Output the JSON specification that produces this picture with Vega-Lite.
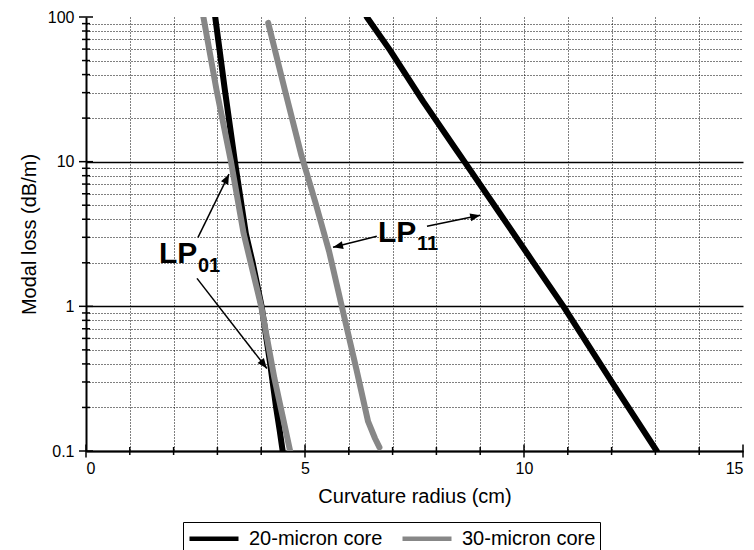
{
  "$schema": "https://vega.github.io/schema/vega-lite/v6.json",
  "width": 657,
  "height": 434,
  "autosize": {"type": "none"},
  "padding": {"left": 86, "top": 17, "right": 11, "bottom": 99},
  "background": "white",
  "resolve": {"axis": {"x": "independent", "y": "independent"}},
  "config": {
    "view": {"stroke": null},
    "font": "Liberation Sans",
    "axis": {
      "domainColor": "black",
      "domainWidth": 2,
      "ticks": false,
      "gridColor": "black",
      "gridWidth": 1,
      "labelFont": "Liberation Sans",
      "labelFontSize": 16,
      "labelColor": "black",
      "titleFont": "Liberation Sans",
      "titleFontSize": 20,
      "titleFontWeight": "normal",
      "titleColor": "black"
    },
    "legend": {
      "orient": "none",
      "legendX": 97,
      "legendY": 505,
      "direction": "horizontal",
      "strokeColor": "black",
      "fillColor": "white",
      "padding": 4,
      "symbolType": "M-1,0L3.9,0",
      "symbolSize": 400,
      "symbolStrokeWidth": 4.5,
      "labelFont": "Liberation Sans",
      "labelFontSize": 20,
      "labelColor": "black",
      "labelOffset": 37,
      "columnPadding": 10
    }
  },
  "datasets": {
    "curves": [
      {"core": "20-micron core", "mode": "LP01", "r": 2.95, "loss": 100},
      {"core": "20-micron core", "mode": "LP01", "r": 3.17, "loss": 31.3},
      {"core": "20-micron core", "mode": "LP01", "r": 3.40, "loss": 10},
      {"core": "20-micron core", "mode": "LP01", "r": 3.65, "loss": 3.18},
      {"core": "20-micron core", "mode": "LP01", "r": 3.81, "loss": 1.97},
      {"core": "20-micron core", "mode": "LP01", "r": 4.01, "loss": 1.0},
      {"core": "20-micron core", "mode": "LP01", "r": 4.20, "loss": 0.41},
      {"core": "20-micron core", "mode": "LP01", "r": 4.34, "loss": 0.2},
      {"core": "20-micron core", "mode": "LP01", "r": 4.42, "loss": 0.14},
      {"core": "20-micron core", "mode": "LP01", "r": 4.49, "loss": 0.1},
      {"core": "20-micron core", "mode": "LP11", "r": 6.41, "loss": 100},
      {"core": "20-micron core", "mode": "LP11", "r": 6.94, "loss": 59},
      {"core": "20-micron core", "mode": "LP11", "r": 7.70, "loss": 26},
      {"core": "20-micron core", "mode": "LP11", "r": 8.46, "loss": 12},
      {"core": "20-micron core", "mode": "LP11", "r": 8.64, "loss": 10},
      {"core": "20-micron core", "mode": "LP11", "r": 9.45, "loss": 4.38},
      {"core": "20-micron core", "mode": "LP11", "r": 10.18, "loss": 2.08},
      {"core": "20-micron core", "mode": "LP11", "r": 10.9, "loss": 1.0},
      {"core": "20-micron core", "mode": "LP11", "r": 12.03, "loss": 0.292},
      {"core": "20-micron core", "mode": "LP11", "r": 13.03, "loss": 0.1},
      {"core": "30-micron core", "mode": "LP01", "r": 2.68, "loss": 100},
      {"core": "30-micron core", "mode": "LP01", "r": 2.98, "loss": 31.3},
      {"core": "30-micron core", "mode": "LP01", "r": 3.31, "loss": 10},
      {"core": "30-micron core", "mode": "LP01", "r": 3.60, "loss": 3.18},
      {"core": "30-micron core", "mode": "LP01", "r": 4.00, "loss": 1.0},
      {"core": "30-micron core", "mode": "LP01", "r": 4.30, "loss": 0.32},
      {"core": "30-micron core", "mode": "LP01", "r": 4.66, "loss": 0.1},
      {"core": "30-micron core", "mode": "LP11", "r": 4.16, "loss": 91},
      {"core": "30-micron core", "mode": "LP11", "r": 4.54, "loss": 31.3},
      {"core": "30-micron core", "mode": "LP11", "r": 4.92, "loss": 11},
      {"core": "30-micron core", "mode": "LP11", "r": 5.24, "loss": 5.2},
      {"core": "30-micron core", "mode": "LP11", "r": 5.55, "loss": 2.4},
      {"core": "30-micron core", "mode": "LP11", "r": 5.84, "loss": 1.0},
      {"core": "30-micron core", "mode": "LP11", "r": 6.18, "loss": 0.36},
      {"core": "30-micron core", "mode": "LP11", "r": 6.44, "loss": 0.16},
      {"core": "30-micron core", "mode": "LP11", "r": 6.60, "loss": 0.122},
      {"core": "30-micron core", "mode": "LP11", "r": 6.70, "loss": 0.106}
    ],
    "arrows": [
      {"id": "A", "xa": 2.557, "ya": 3.00, "xb": 3.265, "yb": 8.20},
      {"id": "B", "xa": 2.534, "ya": 1.56, "xb": 4.13, "yb": 0.372},
      {"id": "C", "xa": 6.64, "ya": 3.05, "xb": 5.64, "yb": 2.56},
      {"id": "D", "xa": 7.785, "ya": 3.58, "xb": 9.0, "yb": 4.26}
    ],
    "labels": [
      {"t": "LP", "kind": "main", "x": 1.667, "y": 1.985},
      {"t": "01", "kind": "sub", "x": 2.557, "y": 1.719},
      {"t": "LP", "kind": "main", "x": 6.667, "y": 2.773},
      {"t": "11", "kind": "sub", "x": 7.557, "y": 2.44}
    ],
    "xticks": [
      {"v": 0, "k": "major"}, {"v": 1, "k": "minor"}, {"v": 2, "k": "minor"}, {"v": 3, "k": "minor"},
      {"v": 4, "k": "minor"}, {"v": 5, "k": "major"}, {"v": 6, "k": "minor"}, {"v": 7, "k": "minor"},
      {"v": 8, "k": "minor"}, {"v": 9, "k": "minor"}, {"v": 10, "k": "major"}, {"v": 11, "k": "minor"},
      {"v": 12, "k": "minor"}, {"v": 13, "k": "minor"}, {"v": 14, "k": "minor"}, {"v": 15, "k": "major"}
    ],
    "yticks": [
      {"v": 0.1, "k": "major"}, {"v": 0.2, "k": "minor"}, {"v": 0.3, "k": "minor"}, {"v": 0.4, "k": "minor"},
      {"v": 0.5, "k": "minor"}, {"v": 0.6, "k": "minor"}, {"v": 0.7, "k": "minor"}, {"v": 0.8, "k": "minor"},
      {"v": 0.9, "k": "minor"}, {"v": 1, "k": "major"}, {"v": 2, "k": "minor"}, {"v": 3, "k": "minor"},
      {"v": 4, "k": "minor"}, {"v": 5, "k": "minor"}, {"v": 6, "k": "minor"}, {"v": 7, "k": "minor"},
      {"v": 8, "k": "minor"}, {"v": 9, "k": "minor"}, {"v": 10, "k": "major"}, {"v": 20, "k": "minor"},
      {"v": 30, "k": "minor"}, {"v": 40, "k": "minor"}, {"v": 50, "k": "minor"}, {"v": 60, "k": "minor"},
      {"v": 70, "k": "minor"}, {"v": 80, "k": "minor"}, {"v": 90, "k": "minor"}, {"v": 100, "k": "major"}
    ]
  },
  "layer": [
    {
      "data": {"name": "arrows"},
      "mark": {"type": "rule", "color": "black", "strokeWidth": 1.5},
      "encoding": {
        "x": {
          "field": "xa", "type": "quantitative",
          "scale": {"domain": [0, 15], "nice": false, "zero": false},
          "axis": {
            "orient": "bottom", "title": null, "values": [1,2,3,4,6,7,8,9,11,12,13,14],
            "labels": false, "domain": false,
            "grid": true, "gridDash": [1, 2]
          }
        },
        "y": {
          "field": "ya", "type": "quantitative",
          "scale": {"type": "log", "domain": [0.1, 100], "nice": false},
          "axis": {
            "orient": "left", "title": null,
            "values": [0.2,0.3,0.4,0.5,0.6,0.7,0.8,0.9,2,3,4,5,6,7,8,9,20,30,40,50,60,70,80,90],
            "labels": false, "domain": false,
            "grid": true, "gridDash": [1, 2]
          }
        },
        "x2": {"field": "xb"},
        "y2": {"field": "yb"}
      }
    },
    {
      "data": {"name": "curves"},
      "mark": {"type": "line", "strokeWidth": 6, "clip": true, "strokeCap": "round", "strokeJoin": "round"},
      "encoding": {
        "x": {
          "field": "r", "type": "quantitative",
          "scale": {"domain": [0, 15], "nice": false, "zero": false},
          "axis": {
            "orient": "bottom",
            "title": "Curvature radius (cm)",
            "values": [0, 5, 10, 15],
            "labelPadding": 9,
            "titlePadding": 10,
            "grid": true,
            "gridDash": [1, 2],
            "gridOpacity": {"condition": {"test": "datum.value === 0 || datum.value === 15", "value": 0}, "value": 1}
          }
        },
        "y": {
          "field": "loss", "type": "quantitative",
          "scale": {"type": "log", "domain": [0.1, 100], "nice": false},
          "axis": {
            "orient": "left",
            "title": "Modal loss (dB/m)",
            "values": [0.1, 1, 10, 100],
            "format": "~g",
            "labelPadding": 12,
            "titlePadding": 8,
            "grid": true,
            "gridWidth": 1.3,
            "gridOpacity": {"condition": {"test": "datum.value >= 99", "value": 0}, "value": 1}
          }
        },
        "color": {
          "field": "core", "type": "nominal",
          "scale": {"domain": ["20-micron core", "30-micron core"], "range": ["#000000", "#878787"]},
          "legend": {"title": null}
        },
        "detail": {"field": "mode"}
      }
    },
    {
      "data": {"name": "xticks"},
      "transform": [{"filter": "datum.k === 'major'"}],
      "mark": {"type": "tick", "orient": "vertical", "color": "black", "size": 13, "thickness": 1.5, "opacity": 1},
      "encoding": {
        "x": {"field": "v", "type": "quantitative", "axis": null},
        "y": {"datum": 0.1, "type": "quantitative", "axis": null}
      }
    },
    {
      "data": {"name": "xticks"},
      "transform": [{"filter": "datum.k === 'minor'"}],
      "mark": {"type": "tick", "orient": "vertical", "color": "black", "size": 8, "thickness": 1.5, "opacity": 1},
      "encoding": {
        "x": {"field": "v", "type": "quantitative", "axis": null},
        "y": {"datum": 0.1, "type": "quantitative", "axis": null}
      }
    },
    {
      "data": {"name": "yticks"},
      "transform": [{"filter": "datum.k === 'major'"}],
      "mark": {"type": "tick", "orient": "horizontal", "color": "black", "size": 14, "thickness": 1.5, "opacity": 1},
      "encoding": {
        "y": {"field": "v", "type": "quantitative", "axis": null},
        "x": {"datum": 0, "type": "quantitative", "axis": null}
      }
    },
    {
      "data": {"name": "yticks"},
      "transform": [{"filter": "datum.k === 'minor'"}],
      "mark": {"type": "tick", "orient": "horizontal", "color": "black", "size": 8, "thickness": 1.5, "opacity": 1},
      "encoding": {
        "y": {"field": "v", "type": "quantitative", "axis": null},
        "x": {"datum": 0, "type": "quantitative", "axis": null}
      }
    },
    {
      "data": {"name": "arrows"},
      "transform": [{"filter": "datum.id === 'A'"}],
      "mark": {"type": "point", "shape": "M0,0L-0.4,1L0.4,1Z", "filled": true, "color": "black", "opacity": 1, "size": 400, "angle": 26},
      "encoding": {
        "x": {"field": "xb", "type": "quantitative", "axis": null},
        "y": {"field": "yb", "type": "quantitative", "axis": null}
      }
    },
    {
      "data": {"name": "arrows"},
      "transform": [{"filter": "datum.id === 'B'"}],
      "mark": {"type": "point", "shape": "M0,0L-0.4,1L0.4,1Z", "filled": true, "color": "black", "opacity": 1, "size": 400, "angle": 142},
      "encoding": {
        "x": {"field": "xb", "type": "quantitative", "axis": null},
        "y": {"field": "yb", "type": "quantitative", "axis": null}
      }
    },
    {
      "data": {"name": "arrows"},
      "transform": [{"filter": "datum.id === 'C'"}],
      "mark": {"type": "point", "shape": "M0,0L-0.4,1L0.4,1Z", "filled": true, "color": "black", "opacity": 1, "size": 400, "angle": 257},
      "encoding": {
        "x": {"field": "xb", "type": "quantitative", "axis": null},
        "y": {"field": "yb", "type": "quantitative", "axis": null}
      }
    },
    {
      "data": {"name": "arrows"},
      "transform": [{"filter": "datum.id === 'D'"}],
      "mark": {"type": "point", "shape": "M0,0L-0.4,1L0.4,1Z", "filled": true, "color": "black", "opacity": 1, "size": 400, "angle": 78},
      "encoding": {
        "x": {"field": "xb", "type": "quantitative", "axis": null},
        "y": {"field": "yb", "type": "quantitative", "axis": null}
      }
    },
    {
      "data": {"name": "labels"},
      "transform": [{"filter": "datum.kind === 'main'"}],
      "mark": {"type": "text", "font": "Liberation Sans", "fontWeight": "bold", "fontSize": 30, "align": "left", "baseline": "alphabetic", "color": "black"},
      "encoding": {
        "x": {"field": "x", "type": "quantitative", "axis": null},
        "y": {"field": "y", "type": "quantitative", "axis": null},
        "text": {"field": "t"}
      }
    },
    {
      "data": {"name": "labels"},
      "transform": [{"filter": "datum.kind === 'sub'"}],
      "mark": {"type": "text", "font": "Liberation Sans", "fontWeight": "bold", "fontSize": 20, "align": "left", "baseline": "alphabetic", "color": "black"},
      "encoding": {
        "x": {"field": "x", "type": "quantitative", "axis": null},
        "y": {"field": "y", "type": "quantitative", "axis": null},
        "text": {"field": "t"}
      }
    }
  ]
}
